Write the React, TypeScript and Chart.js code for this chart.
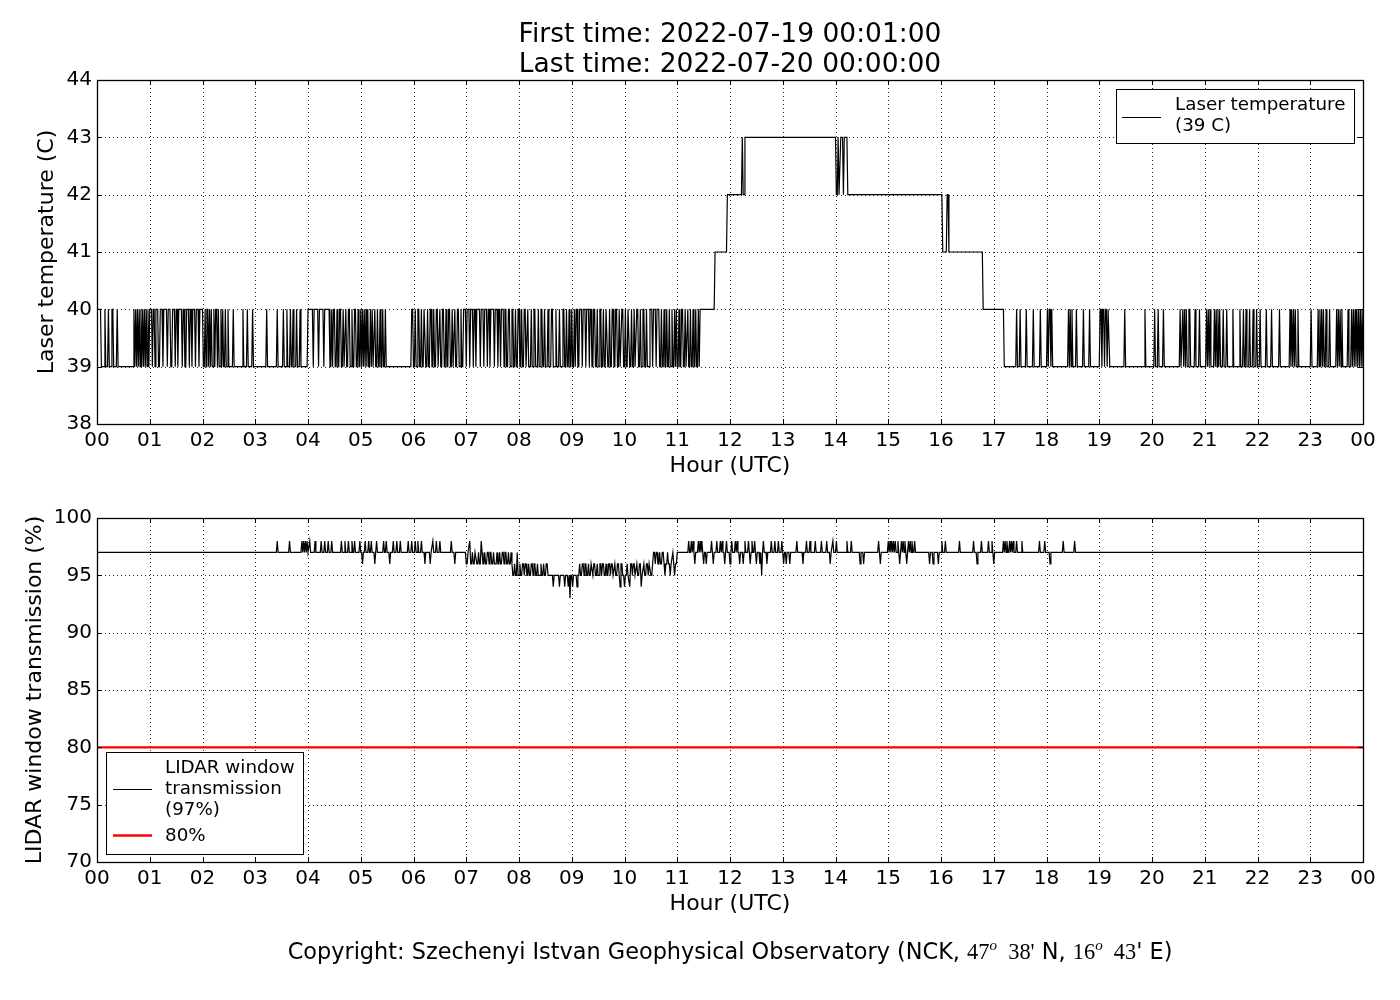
import { useEffect, useRef } from "react";
import { Chart, registerables } from "chart.js";

Chart.register(...registerables);

// ---------- texts ----------
const titleLines = ["First time: 2022-07-19 00:01:00", "Last time: 2022-07-20 00:00:00"];
const xAxisTitle = "Hour (UTC)";
const topYTitle = "Laser temperature (C)";
const bottomYTitle = "LIDAR window transmission (%)";
const topLegendLines = ["Laser temperature", "(39 C)"];
const bottomLegendLines = ["LIDAR window", "transmission", "(97%)"];
const thresholdLabel = "80%";

const hourTickLabels = [
  "00", "01", "02", "03", "04", "05", "06", "07", "08", "09", "10", "11", "12",
  "13", "14", "15", "16", "17", "18", "19", "20", "21", "22", "23", "00",
];

// ---------- laser temperature (minutes after 00:00, °C) ----------
const laserBase = 39;
const laserHigh = 40;
// [start, end] minutes where the temperature reads 40 C (00:00 - 11:25)
const laserPulsesNight: [number, number][] = [
  [0, 5], [9, 10], [13, 14], [17, 19], [23, 24],
  [42, 43], [44, 45], [46, 47], [48, 49], [50, 51], [52, 53], [54, 55], [56, 57], [58, 59],
  [60, 63], [64, 66], [67, 70], [72, 75], [76, 80], [81, 84], [86, 89], [90, 92], [93, 97],
  [98, 100], [102, 105], [106, 108], [109, 112], [113, 116], [117, 121],
  [123, 124], [125, 127], [128, 129], [130, 131], [133, 134], [135, 137], [138, 139],
  [141, 142], [143, 144], [146, 147], [149, 150],
  [155, 156], [166, 167], [171, 172], [177, 178], [193, 194],
  [205, 206], [212, 213], [216, 217], [220, 221], [223, 224], [227, 228], [231, 232],
  [240, 246], [247, 252], [253, 258], [259, 265],
  [267, 268], [269, 271], [273, 274], [276, 278], [280, 281], [283, 284], [286, 288],
  [290, 291], [293, 295], [297, 298],
  [300, 301], [302, 303], [304, 305], [306, 307], [308, 309], [311, 312], [313, 314],
  [316, 317], [319, 320], [322, 323], [325, 326], [328, 329],
  [358, 360], [362, 363], [365, 367], [369, 370], [372, 374], [376, 377], [379, 381],
  [383, 384], [386, 388], [390, 391], [393, 395], [397, 398], [400, 402], [404, 405],
  [407, 408], [410, 412], [414, 415],
  [417, 420], [421, 424], [425, 428], [429, 431], [432, 436], [437, 440], [441, 444],
  [445, 447], [448, 452], [453, 456], [457, 459], [460, 463], [464, 466], [468, 470],
  [472, 474], [476, 477], [479, 481], [483, 484], [486, 488], [490, 491], [494, 495],
  [497, 499], [502, 503], [505, 507], [509, 510], [513, 514], [517, 519], [522, 523],
  [526, 527], [530, 532], [534, 535], [537, 538], [540, 541], [543, 544],
  [545, 547], [549, 552], [553, 556], [557, 560], [561, 563], [565, 567], [569, 570],
  [572, 574], [576, 577], [579, 581], [583, 584], [586, 588], [590, 592], [594, 595],
  [597, 599], [601, 602], [604, 606], [608, 609], [611, 612], [614, 616], [618, 619],
  [621, 623], [625, 626], [629, 632], [633, 636], [637, 640],
  [642, 643], [645, 646], [648, 649], [651, 652], [654, 655], [657, 658],
  [659, 660], [662, 663], [665, 667], [669, 670], [672, 673], [675, 676], [678, 679],
  [681, 682], [684, 685],
];
// [minute, value] step changes during the warm period (11:26 - 17:12)
const laserStepsDay: [number, number][] = [
  [686, 40], [703, 41], [717, 42], [734, 43], [735, 42], [737, 43],
  [841, 42], [843, 43], [844, 42], [846, 43], [849, 42], [850, 43], [854, 42],
  [962, 41], [967, 42], [969, 41], [1008, 40], [1032, 39],
];
// [start, end] minutes where the temperature reads 40 C (17:12 - 24:00)
const laserPulsesEvening: [number, number][] = [
  [1046, 1047], [1050, 1051], [1057, 1058], [1065, 1066], [1073, 1074], [1081, 1082],
  [1083, 1085], [1086, 1087],
  [1105, 1106], [1107, 1108], [1109, 1110], [1114, 1115], [1122, 1123], [1129, 1130],
  [1141, 1143], [1144, 1146], [1147, 1149], [1150, 1152],
  [1169, 1170], [1192, 1193], [1203, 1204], [1207, 1208], [1213, 1214],
  [1232, 1233], [1235, 1236], [1237, 1238], [1239, 1240], [1242, 1244], [1249, 1250], [1254, 1255],
  [1262, 1263], [1264, 1265], [1266, 1267], [1271, 1272], [1273, 1274], [1275, 1276],
  [1277, 1278], [1281, 1282], [1285, 1286], [1292, 1293], [1300, 1301], [1304, 1305],
  [1307, 1308], [1311, 1312], [1315, 1316], [1319, 1320], [1323, 1324], [1330, 1331],
  [1336, 1337], [1345, 1346],
  [1357, 1358], [1359, 1360], [1361, 1362], [1363, 1364], [1366, 1367],
  [1381, 1382], [1389, 1390], [1391, 1392], [1393, 1394], [1395, 1396], [1398, 1399],
  [1402, 1403], [1410, 1411], [1412, 1413], [1414, 1415], [1416, 1417], [1423, 1424],
  [1427, 1428], [1429, 1430], [1431, 1432], [1433, 1434], [1435, 1436], [1437, 1438],
  [1439, 1440],
];

// ---------- LIDAR window transmission (minutes, %) ----------
const transBase = 97;
const transThreshold = 80;
// one-minute readings of 98 % on the 97 % baseline
const transSpikeUp = [
  205, 219, 233, 235, 237, 239, 242, 248, 255, 259, 263, 267, 278, 282, 286, 290, 293, 299,
  305, 309, 312, 318, 326, 329, 337, 341, 345, 354, 358, 362, 365, 369, 382, 386, 390, 403,
  673, 676, 678, 684, 686, 688, 699, 705, 709, 711, 716, 722, 726, 728, 737, 741, 745, 748,
  758, 767, 771, 775, 779, 796, 807, 811, 817, 824, 830, 837, 841, 853, 858, 889,
  900, 902, 904, 906, 908, 911, 915, 917, 919, 923, 925, 927, 930, 961, 965, 981, 997,
  1006, 1014, 1018, 1031, 1033, 1035, 1038, 1040, 1042, 1046, 1052, 1072, 1078, 1099, 1112,
];
// one-minute readings of 96 % on the 97 % baseline
const transDip96 = [
  302, 316, 333, 373, 379, 407,
  680, 690, 693, 701, 714, 720, 731, 735, 743, 750, 754, 762, 781, 784, 788, 803, 834,
  868, 872, 891, 913, 921, 947, 951, 957, 1001, 1020, 1084,
];
// one-minute readings of 95 % on the 97 % baseline
const transDip95 = [756];
// [minute, value] readings during the low-transmission period (07:00 - 11:01)
const transMorningChanges: [number, number][] = [
  [420, 96], [422, 97], [424, 98], [425, 96], [427, 97], [428, 96], [430, 97], [432, 96],
  [434, 97], [435, 96], [437, 98], [438, 97], [439, 96], [441, 97], [442, 96], [444, 97],
  [446, 96], [447, 97], [449, 96], [451, 97], [452, 96], [455, 97], [456, 96], [458, 97],
  [459, 96], [461, 97], [463, 96], [464, 97], [466, 96], [468, 97], [469, 96], [471, 97],
  [472, 96],
  [473, 95], [475, 96], [476, 95], [478, 97], [479, 95], [481, 96], [482, 95], [484, 96],
  [486, 95], [487, 96], [489, 95], [491, 96], [492, 95], [494, 96], [496, 95], [497, 96],
  [499, 95], [501, 96], [502, 95], [505, 96], [506, 95], [508, 96], [509, 95], [511, 96],
  [513, 95],
  [519, 94], [520, 95], [526, 94], [527, 95], [532, 94], [533, 95], [536, 94], [537, 95],
  [538, 93], [539, 95], [541, 94], [542, 95], [546, 94], [547, 95],
  [549, 96], [550, 95], [552, 96], [554, 95], [555, 96], [557, 95], [559, 96], [560, 95],
  [562, 96], [564, 95], [565, 96], [567, 95], [569, 96], [570, 95], [572, 96], [574, 95],
  [575, 96], [577, 95], [579, 96], [580, 95], [582, 96], [584, 95], [585, 96], [587, 95],
  [589, 96], [590, 95], [592, 96], [594, 95], [595, 94], [596, 96], [598, 95], [600, 94],
  [601, 95], [603, 96], [604, 95], [606, 94], [607, 96], [609, 95], [610, 96], [612, 95],
  [614, 96], [615, 95], [617, 96], [619, 94], [620, 95], [622, 96], [623, 95], [625, 96],
  [627, 95], [628, 96], [630, 95], [632, 96],
  [633, 97], [635, 96], [636, 97], [638, 96], [640, 97], [641, 96], [643, 97], [645, 96],
  [646, 95], [647, 96], [649, 97], [650, 96], [652, 95], [653, 96], [655, 97], [656, 96],
  [657, 95], [658, 96], [660, 97],
];

const DAY_MINUTES = 1440;

// ---------- helpers ----------
type Pt = { x: number; y: number };

function buildSeries(start: number, events: [number, number][], end: number): Pt[] {
  const sorted = [...events].sort((a, b) => a[0] - b[0]);
  const pts: Pt[] = [{ x: 0, y: start }];
  for (const [t, v] of sorted) {
    const last = pts[pts.length - 1];
    if (t - 1 > last.x) pts.push({ x: t - 1, y: last.y });
    pts.push({ x: t, y: v });
  }
  const last = pts[pts.length - 1];
  if (last.x < end) pts.push({ x: end, y: last.y });
  return pts;
}

function laserEvents(): [number, number][] {
  const ev: [number, number][] = [];
  for (const [s, e] of laserPulsesNight) { ev.push([s, laserHigh]); ev.push([e, laserBase]); }
  for (const st of laserStepsDay) ev.push(st);
  for (const [s, e] of laserPulsesEvening) { ev.push([s, laserHigh]); ev.push([e, laserBase]); }
  return ev;
}

function transEvents(): [number, number][] {
  const ev: [number, number][] = [];
  for (const m of transSpikeUp) { ev.push([m, 98]); ev.push([m + 1, transBase]); }
  for (const m of transDip96) { ev.push([m, 96]); ev.push([m + 1, transBase]); }
  for (const m of transDip95) { ev.push([m, 95]); ev.push([m + 1, transBase]); }
  for (const c of transMorningChanges) ev.push(c);
  return ev;
}

const FONT = "'DejaVu Sans', sans-serif";

function framePlugin(id: string, extra?: (chart: any) => void) {
  return {
    id,
    beforeDatasetsDraw(chart: any) {
      const { ctx, chartArea: a, scales } = chart;
      ctx.save();
      ctx.strokeStyle = "rgba(0,0,0,0.85)";
      ctx.lineWidth = 1;
      ctx.setLineDash([1, 3]);
      for (const t of scales.x.ticks) {
        const px = Math.round(scales.x.getPixelForValue(t.value)) + 0.5;
        ctx.beginPath(); ctx.moveTo(px, a.top); ctx.lineTo(px, a.bottom); ctx.stroke();
      }
      for (const t of scales.y.ticks) {
        const py = Math.round(scales.y.getPixelForValue(t.value)) + 0.5;
        ctx.beginPath(); ctx.moveTo(a.left, py); ctx.lineTo(a.right, py); ctx.stroke();
      }
      ctx.restore();
    },
    afterDatasetsDraw(chart: any) {
      const { ctx, chartArea: a, scales } = chart;
      ctx.save();
      ctx.setLineDash([]);
      ctx.strokeStyle = "#000";
      ctx.lineWidth = 1;
      const tl = 5;
      for (const t of scales.x.ticks) {
        const px = Math.round(scales.x.getPixelForValue(t.value)) + 0.5;
        ctx.beginPath();
        ctx.moveTo(px, a.bottom); ctx.lineTo(px, a.bottom - tl);
        ctx.moveTo(px, a.top); ctx.lineTo(px, a.top + tl);
        ctx.stroke();
      }
      for (const t of scales.y.ticks) {
        const py = Math.round(scales.y.getPixelForValue(t.value)) + 0.5;
        ctx.beginPath();
        ctx.moveTo(a.left, py); ctx.lineTo(a.left + tl, py);
        ctx.moveTo(a.right, py); ctx.lineTo(a.right - tl, py);
        ctx.stroke();
      }
      ctx.lineWidth = 1.3;
      ctx.strokeRect(Math.round(a.left) + 0.5, Math.round(a.top) + 0.5,
        Math.round(a.right - a.left), Math.round(a.bottom - a.top));
      if (extra) extra(chart);
      ctx.restore();
    },
  };
}

function makeOptions(opts: {
  yMin: number; yMax: number; yStep: number; yTitle: string; yTitlePad: number;
  padTop: number; padBottom: number;
}): any {
  return {
    responsive: false,
    animation: false,
    events: [],
    layout: { padding: { left: 0, right: 37, top: opts.padTop, bottom: opts.padBottom } },
    plugins: { legend: { display: false }, tooltip: { enabled: false }, title: { display: false } },
    elements: { point: { radius: 0 }, line: { tension: 0 } },
    scales: {
      x: {
        type: "linear",
        min: 0,
        max: DAY_MINUTES,
        grid: { display: false, drawTicks: false },
        border: { display: false },
        afterFit: (s: any) => { s.height = 56; },
        ticks: {
          stepSize: 60,
          autoSkip: false,
          maxRotation: 0,
          padding: 5,
          color: "#000",
          font: { family: FONT, size: 20 },
          callback: (v: number) => hourTickLabels[Math.round(v / 60)],
        },
        title: {
          display: true,
          text: xAxisTitle,
          color: "#000",
          font: { family: FONT, size: 22 },
          padding: { top: 0, bottom: 1 },
        },
      },
      y: {
        min: opts.yMin,
        max: opts.yMax,
        grid: { display: false, drawTicks: false },
        border: { display: false },
        afterFit: (s: any) => { s.width = 97; },
        ticks: {
          stepSize: opts.yStep,
          autoSkip: false,
          padding: 5,
          color: "#000",
          font: { family: FONT, size: 20 },
        },
        title: {
          display: true,
          text: opts.yTitle,
          color: "#000",
          font: { family: FONT, size: 22 },
          padding: { top: opts.yTitlePad, bottom: 0 },
        },
      },
    },
  };
}

export default function App() {
  const topRef = useRef<HTMLCanvasElement>(null);
  const botRef = useRef<HTMLCanvasElement>(null);

  useEffect(() => {
    const laserData = buildSeries(laserBase, laserEvents(), DAY_MINUTES);
    const transData = buildSeries(transBase, transEvents(), DAY_MINUTES);

    const topExtra = (chart: any) => {
      const { ctx, chartArea: a } = chart;
      // figure title
      ctx.fillStyle = "#000";
      ctx.textAlign = "center";
      ctx.textBaseline = "middle";
      ctx.font = `26.5px ${FONT}`;
      const cx = (a.left + a.right) / 2;
      ctx.fillText(titleLines[0], cx, 35);
      ctx.fillText(titleLines[1], cx, 65);
      // legend
      ctx.lineWidth = 1;
      ctx.fillStyle = "#fff";
      ctx.fillRect(1116.5, 89.5, 238, 54);
      ctx.strokeStyle = "#000";
      ctx.strokeRect(1116.5, 89.5, 238, 54);
      ctx.lineWidth = 1.2;
      ctx.beginPath(); ctx.moveTo(1122, 117.5); ctx.lineTo(1161, 117.5); ctx.stroke();
      ctx.fillStyle = "#000";
      ctx.textAlign = "left";
      ctx.font = `18.3px ${FONT}`;
      ctx.fillText(topLegendLines[0], 1175, 105.5);
      ctx.fillText(topLegendLines[1], 1175, 126);
    };

    const botExtra = (chart: any) => {
      const { ctx } = chart;
      ctx.lineWidth = 1;
      ctx.fillStyle = "#fff";
      ctx.fillRect(106.5, 272.5, 197, 102);
      ctx.strokeStyle = "#000";
      ctx.strokeRect(106.5, 272.5, 197, 102);
      ctx.lineWidth = 1.2;
      ctx.beginPath(); ctx.moveTo(113, 309.5); ctx.lineTo(152, 309.5); ctx.stroke();
      ctx.strokeStyle = "#ff0000";
      ctx.lineWidth = 2.5;
      ctx.beginPath(); ctx.moveTo(113, 355.5); ctx.lineTo(152, 355.5); ctx.stroke();
      ctx.fillStyle = "#000";
      ctx.textAlign = "left";
      ctx.textBaseline = "middle";
      ctx.font = `18.3px ${FONT}`;
      ctx.fillText(bottomLegendLines[0], 165, 288);
      ctx.fillText(bottomLegendLines[1], 165, 309);
      ctx.fillText(bottomLegendLines[2], 165, 330);
      ctx.fillText(thresholdLabel, 165, 356);
    };

    const c1 = new Chart(topRef.current as HTMLCanvasElement, {
      type: "line",
      data: {
        datasets: [
          {
            label: "Laser temperature (39 C)",
            data: laserData as any,
            borderColor: "#000",
            borderWidth: 1.2,
            pointRadius: 0,
            fill: false,
          },
        ],
      },
      options: makeOptions({
        yMin: 38, yMax: 44, yStep: 1, yTitle: topYTitle, yTitlePad: 34, padTop: 80, padBottom: 0,
      }),
      plugins: [framePlugin("frameTop", topExtra)],
    });

    const c2 = new Chart(botRef.current as HTMLCanvasElement, {
      type: "line",
      data: {
        datasets: [
          {
            label: "LIDAR window transmission (97%)",
            data: transData as any,
            borderColor: "#000",
            borderWidth: 1.2,
            pointRadius: 0,
            fill: false,
          },
          {
            label: "80%",
            data: [
              { x: 0, y: transThreshold },
              { x: DAY_MINUTES, y: transThreshold },
            ] as any,
            borderColor: "#ff0000",
            borderWidth: 2.2,
            pointRadius: 0,
            fill: false,
          },
        ],
      },
      options: makeOptions({
        yMin: 70, yMax: 100, yStep: 5, yTitle: bottomYTitle, yTitlePad: 22, padTop: 38, padBottom: 82,
      }),
      plugins: [framePlugin("frameBottom", botExtra)],
    });

    return () => {
      c1.destroy();
      c2.destroy();
    };
  }, []);

  const serif = { fontFamily: "'Liberation Serif', 'DejaVu Serif', serif" };
  const sup = { ...serif, fontStyle: "italic", fontSize: "15px", verticalAlign: "9px" } as const;

  return (
    <div style={{ position: "absolute", left: 0, top: 0, width: 1400, height: 1000, background: "#fff" }}>
      <canvas ref={topRef} width={1400} height={480} style={{ position: "absolute", left: 0, top: 0 }} />
      <canvas ref={botRef} width={1400} height={520} style={{ position: "absolute", left: 0, top: 480 }} />
      <div
        style={{
          position: "absolute",
          left: 97,
          width: 1266,
          top: 932,
          textAlign: "center",
          fontFamily: FONT,
          fontSize: "22.4px",
          lineHeight: "26px",
          color: "#000",
          whiteSpace: "nowrap",
        }}
      >
        Copyright: Szechenyi Istvan Geophysical Observatory (NCK,{" "}
        <span style={serif}>47</span><span style={sup}>o</span>
        <span style={serif}>&nbsp;&nbsp;38'</span> N,{" "}
        <span style={serif}>16</span><span style={sup}>o</span>
        <span style={serif}>&nbsp;&nbsp;43</span>' E)
      </div>
    </div>
  );
}
